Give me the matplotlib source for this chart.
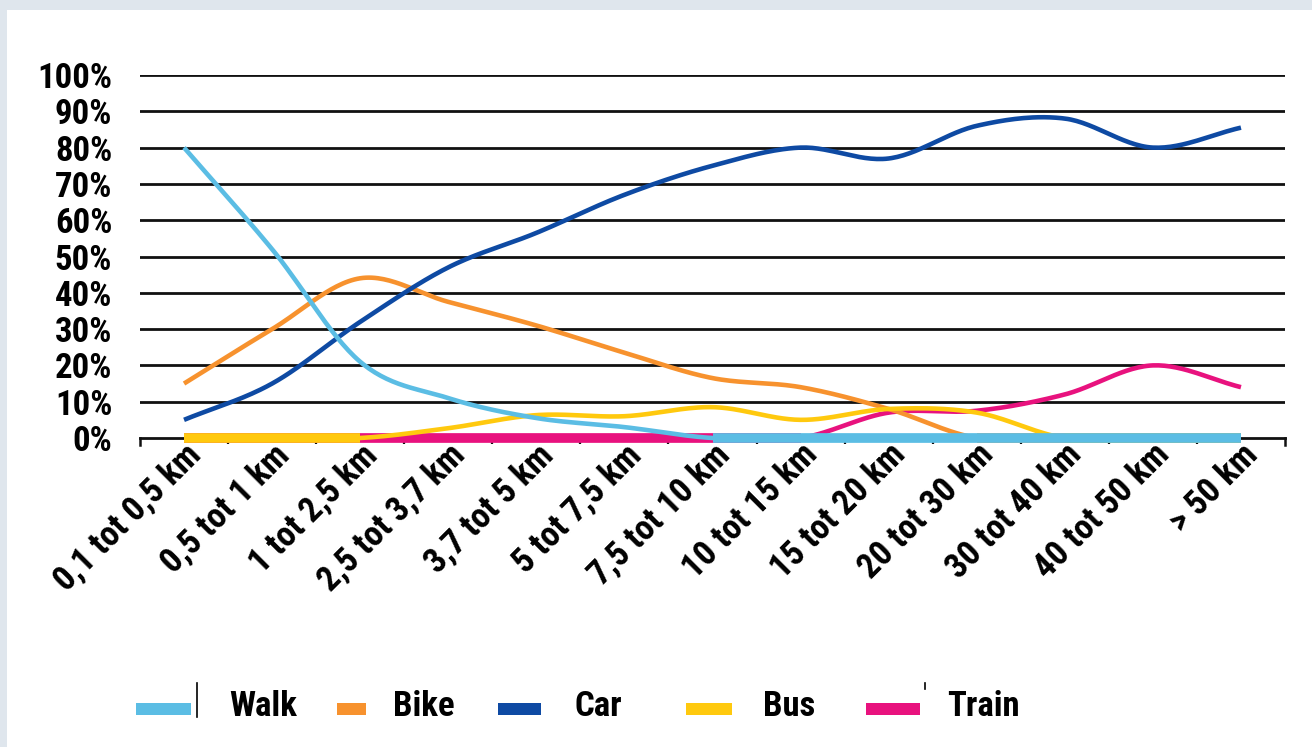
import numpy as np
import matplotlib
matplotlib.use("Agg")
import matplotlib.pyplot as plt
from matplotlib import font_manager
from matplotlib.patches import Rectangle
from matplotlib.lines import Line2D
import matplotlib.transforms as mtransforms

# ---- data -------------------------------------------------------------
categories = ["0,1 tot 0,5 km", "0,5 tot 1 km", "1 tot 2,5 km", "2,5 tot 3,7 km",
              "3,7 tot 5 km", "5 tot 7,5 km", "7,5 tot 10 km", "10 tot 15 km",
              "15 tot 20 km", "20 tot 30 km", "30 tot 40 km", "40 tot 50 km",
              "> 50 km"]
walk = [80, 52, 21, 11, 5.5, 3, 0, 0, 0, 0, 0, 0, 0]
bike = [15, 30, 44, 37.5, 31, 23.5, 16.5, 14, 8, 0, 0, 0, 0]
car = [5, 15, 32, 47, 56.5, 67, 75, 80, 77, 86, 88, 80, 85.5]
bus = [0, 0, 0, 2.7, 6.3, 6, 8.5, 5, 8, 7, 0, 0, 0]
train = [0, 0, 0, 0, 0, 0, 0, 0, 7, 7.5, 12, 20, 14]
series_names = ["Walk", "Bike", "Car", "Bus", "Train"]
yticks = list(range(0, 101, 10))

colors = {"Walk": "#5bbde4", "Bike": "#f7922e", "Car": "#0e4aa3",
          "Bus": "#ffc90e", "Train": "#e8127e"}

# ---- fonts ------------------------------------------------------------
def pick_font(cands):
    for c in cands:
        try:
            font_manager.findfont(font_manager.FontProperties(family=c, weight="bold"),
                                  fallback_to_default=False)
            return c
        except Exception:
            continue
    return "DejaVu Sans"

narrow = pick_font(["Liberation Sans Narrow", "DejaVu Sans Condensed", "Roboto Condensed",
                    "Liberation Sans"])
plt.rcParams["font.family"] = [narrow, "DejaVu Sans"]

W, H = 1312, 747
fig = plt.figure(figsize=(W / 100, H / 100), dpi=100)
fig.patch.set_facecolor("white")

def fx(px):
    return px / W

def fy(py):
    return 1 - py / H

# light frame along the top and left edges
fig.add_artist(Rectangle((0, fy(10)), 1, 10 / H, transform=fig.transFigure,
                         color="#dfe6ed", lw=0, zorder=0))
fig.add_artist(Rectangle((0, 0), 7 / W, 1, transform=fig.transFigure,
                         color="#dfe6ed", lw=0, zorder=0))

ax = fig.add_axes([fx(140), fy(438), fx(1285) - fx(140), fy(75) - fy(438)])
ax.set_facecolor("none")
ax.set_xlim(-0.5, len(categories) - 0.5)
ax.set_ylim(0, 100)

for s in ["top", "right", "left"]:
    ax.spines[s].set_visible(False)
ax.spines["bottom"].set_linewidth(2.0)
ax.spines["bottom"].set_color("#111111")

# horizontal grid lines
for v in yticks[1:]:
    ax.axhline(v, color="#111111", lw=2.0, zorder=1)

ax.set_yticks(yticks)
ax.set_yticklabels([f"{v}%" for v in yticks], fontsize=25, fontweight="bold")
ax.tick_params(axis="y", length=0, pad=20)
for lab in ax.get_yticklabels():
    lab.set_horizontalalignment("right")

x = np.arange(len(categories))
ax.set_xticks(x)
ax.set_xticks(np.arange(0.5, len(categories) - 1, 1.0), minor=True)
ax.tick_params(axis="x", which="major", length=0, pad=0)
ax.tick_params(axis="x", which="minor", length=4, width=1.6, color="#111111", direction="out")
ax.set_xticklabels(categories, rotation=45, ha="right", va="top",
                   rotation_mode="anchor", fontsize=25, fontweight="bold")
offset = mtransforms.ScaledTranslation(0 / 100, 0 / 100, fig.dpi_scale_trans)
for lab in ax.get_xticklabels():
    lab.set_transform(lab.get_transform() + offset)

# end brackets of the category axis
for xe in (-0.5, len(categories) - 0.5):
    ax.plot([xe, xe], [0, -2.0], color="#111111", lw=1.8, clip_on=False, zorder=2)


def smooth(xs, ys, n=30):
    """Cubic Hermite (Catmull-Rom) curve through the points."""
    xs = np.asarray(xs, float)
    ys = np.asarray(ys, float)
    m = np.zeros_like(ys)
    m[1:-1] = (ys[2:] - ys[:-2]) / 2
    m[0] = ys[1] - ys[0]
    m[-1] = ys[-1] - ys[-2]
    out_x, out_y = [], []
    for i in range(len(xs) - 1):
        t = np.linspace(0, 1, n, endpoint=False)
        h00 = 2 * t**3 - 3 * t**2 + 1
        h10 = t**3 - 2 * t**2 + t
        h01 = -2 * t**3 + 3 * t**2
        h11 = t**3 - t**2
        out_x.append(xs[i] + t)
        out_y.append(h00 * ys[i] + h10 * m[i] + h01 * ys[i + 1] + h11 * m[i + 1])
    out_x.append([xs[-1]])
    out_y.append([ys[-1]])
    return np.concatenate(out_x), np.clip(np.concatenate(out_y), 0, None)


data = {"Walk": walk, "Bike": bike, "Car": car, "Bus": bus, "Train": train}
zorders = {"Train": 3, "Bike": 4, "Bus": 5, "Car": 6, "Walk": 7}

for name in series_names:
    vals = data[name]
    sx, sy = smooth(x, vals)
    ax.plot(sx, sy, color=colors[name], lw=3.3, zorder=zorders[name],
            solid_capstyle="butt", clip_on=False)
    # runs of zero values sit on the baseline as a heavier band
    vals = np.asarray(vals)
    i = 0
    while i < len(vals):
        if vals[i] == 0:
            j = i
            while j + 1 < len(vals) and vals[j + 1] == 0:
                j += 1
            if j > i:
                ax.plot([x[i], x[j]], [0, 0], color=colors[name], lw=7,
                        solid_capstyle="butt", zorder=zorders[name], clip_on=False)
            i = j + 1
        else:
            i += 1

# legend along the bottom
handles = [("Walk", 136, 191, 229), ("Bike", 337, 366, 393), ("Car", 498, 541, 574),
           ("Bus", 686, 732, 763), ("Train", 866, 920, 947)]
for name, x0, x1, tx in handles:
    fig.add_artist(Rectangle((fx(x0), fy(715)), fx(x1) - fx(x0), 12 / H,
                             transform=fig.transFigure, color=colors[name], lw=0))
    fig.text(fx(tx), fy(707), name, fontsize=25, fontweight="bold",
             ha="left", va="center", color="black")
fig.add_artist(Line2D([fx(197), fx(197)], [fy(683), fy(717)], transform=fig.transFigure,
                      color="black", lw=1.2))
fig.add_artist(Line2D([fx(925), fx(925)], [fy(683), fy(689)], transform=fig.transFigure,
                      color="black", lw=1.2))

fig.savefig("out.png", dpi=100, facecolor=fig.get_facecolor())
